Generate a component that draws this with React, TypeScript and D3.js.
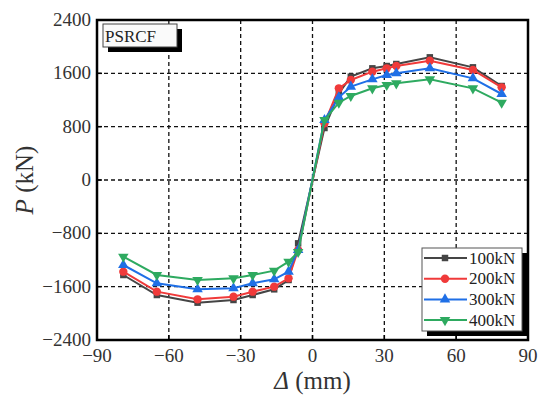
import React from 'react';
import { scaleLinear, line, symbol, symbolSquare, symbolCircle, symbolTriangle } from 'd3';

const dim = { width: 550, height: 405, left: 97, right: 528, top: 20, bottom: 340 };

const displacement = [-79, -65, -48, -33, -25, -16, -10, -6, 5, 11, 16, 25, 31, 35, 49, 67, 79];
const load100 = [-1425, -1725, -1840, -1800, -1725, -1640, -1500, -950, 780, 1300, 1550, 1675, 1710, 1740, 1840, 1690, 1410];
const load200 = [-1375, -1675, -1790, -1750, -1675, -1600, -1475, -1050, 850, 1375, 1500, 1625, 1675, 1710, 1790, 1650, 1390];
const load300 = [-1275, -1550, -1640, -1625, -1550, -1490, -1375, -1050, 900, 1240, 1400, 1510, 1575, 1600, 1675, 1525, 1290];
const load400 = [-1150, -1425, -1500, -1475, -1425, -1360, -1225, -1080, 900, 1160, 1260, 1375, 1425, 1450, 1510, 1375, 1160];
const seriesNames = ['100kN', '200kN', '300kN', '400kN'];
const xTicks = [-90, -60, -30, 0, 30, 60, 90];
const yTicks = [-2400, -1600, -800, 0, 800, 1600, 2400];

const colors = ['#454545', '#f03a3a', '#1f6fe6', '#2eaa60'];
const shapes = ['square', 'circle', 'up', 'down'];

const serif = '"Liberation Serif", "DejaVu Serif", serif';

const Marker = ({ kind, x, y, color }: { kind: string; x: number; y: number; color: string }) => {
  let d = '';
  let rot = 0;
  if (kind === 'square') d = symbol(symbolSquare, 42)() as string;
  else if (kind === 'circle') d = symbol(symbolCircle, 55)() as string;
  else {
    d = symbol(symbolTriangle, 48)() as string;
    if (kind === 'down') rot = 180;
  }
  return <path d={d} transform={`translate(${x},${y}) rotate(${rot})`} fill={color} />;
};

const fmt = (t: number) => (t < 0 ? '\u2212' + Math.abs(t) : String(t));

const App = () => {
  const x = scaleLinear().domain([-90, 90]).range([dim.left, dim.right]);
  const y = scaleLinear().domain([-2400, 2400]).range([dim.bottom, dim.top]);
  const all = [load100, load200, load300, load400];
  const path = line<number>()
    .x((_, i) => x(displacement[i]))
    .y((v) => y(v));

  return (
    <div style={{ position: 'absolute', left: 0, top: 0 }}>
      <svg width={dim.width} height={dim.height} style={{ display: 'block', background: '#fff' }}>
        {/* grid */}
        {xTicks.slice(1, -1).map((t) => (
          <line key={'gx' + t} x1={x(t)} x2={x(t)} y1={dim.top} y2={dim.bottom}
            stroke="#111" strokeWidth={1.3} strokeDasharray="4 3" />
        ))}
        {yTicks.slice(1, -1).map((t) => (
          <line key={'gy' + t} x1={dim.left} x2={dim.right} y1={y(t)} y2={y(t)}
            stroke="#111" strokeWidth={1.3} strokeDasharray="4 3" />
        ))}
        {/* ticks */}
        {xTicks.map((t) => (
          <line key={'tx' + t} x1={x(t)} x2={x(t)} y1={dim.bottom} y2={dim.bottom - 5} stroke="#000" strokeWidth={1.5} />
        ))}
        {yTicks.map((t) => (
          <line key={'ty' + t} x1={dim.left} x2={dim.left + 5} y1={y(t)} y2={y(t)} stroke="#000" strokeWidth={1.5} />
        ))}
        {/* series */}
        {all.map((vals, s) => (
          <g key={seriesNames[s]}>
            <path d={path(vals) as string} fill="none" stroke={colors[s]} strokeWidth={2} />
            {vals.map((v, i) => (
              <Marker key={i} kind={shapes[s]} x={x(displacement[i])} y={y(v)} color={colors[s]} />
            ))}
          </g>
        ))}
        {/* frame */}
        <rect x={dim.left} y={dim.top} width={dim.right - dim.left} height={dim.bottom - dim.top}
          fill="none" stroke="#000" strokeWidth={2.5} />
        {/* tick labels */}
        {yTicks.map((t) => (
          <text key={'ly' + t} x={dim.left - 6} y={y(t) + 6} textAnchor="end"
            fontFamily={serif} fontSize={19} fill="#333">{fmt(t)}</text>
        ))}
        {xTicks.map((t) => (
          <text key={'lx' + t} x={x(t)} y={dim.bottom + 22} textAnchor="middle"
            fontFamily={serif} fontSize={19} fill="#333">{fmt(t)}</text>
        ))}
        {/* axis titles */}
        <text transform={`translate(33,${(dim.top + dim.bottom) / 2}) rotate(-90)`} textAnchor="middle"
          fontFamily={serif} fontSize={25} fill="#333">
          <tspan fontStyle="italic">P</tspan> (kN)
        </text>
        <text x={(dim.left + dim.right) / 2} y={389} textAnchor="middle" fontFamily={serif} fontSize={25} fill="#333">
          <tspan fontStyle="italic">Δ</tspan> (mm)
        </text>
        {/* label box */}
        <rect x={108} y={29} width={74} height={23} fill="#000" />
        <rect x={103} y={24} width={74} height={23} fill="#fafafa" stroke="#444" strokeWidth={1} />
        <text x={105} y={42} fontFamily={serif} fontSize={17} fill="#222">PSRCF</text>
        {/* legend */}
        <rect x={427} y={253} width={100} height={83} fill="#000" />
        <rect x={422} y={248} width={100} height={83} fill="#fff" stroke="#555" strokeWidth={1} />
        {seriesNames.map((name, s) => {
          const ly = 258 + s * 20.7;
          return (
            <g key={'lg' + name}>
              <line x1={424} x2={467} y1={ly} y2={ly} stroke={colors[s]} strokeWidth={2} />
              <Marker kind={shapes[s]} x={445} y={ly} color={colors[s]} />
              <text x={469} y={ly + 5.5} fontFamily={serif} fontSize={17} fill="#222">{name}</text>
            </g>
          );
        })}
      </svg>
    </div>
  );
};

export default App;
